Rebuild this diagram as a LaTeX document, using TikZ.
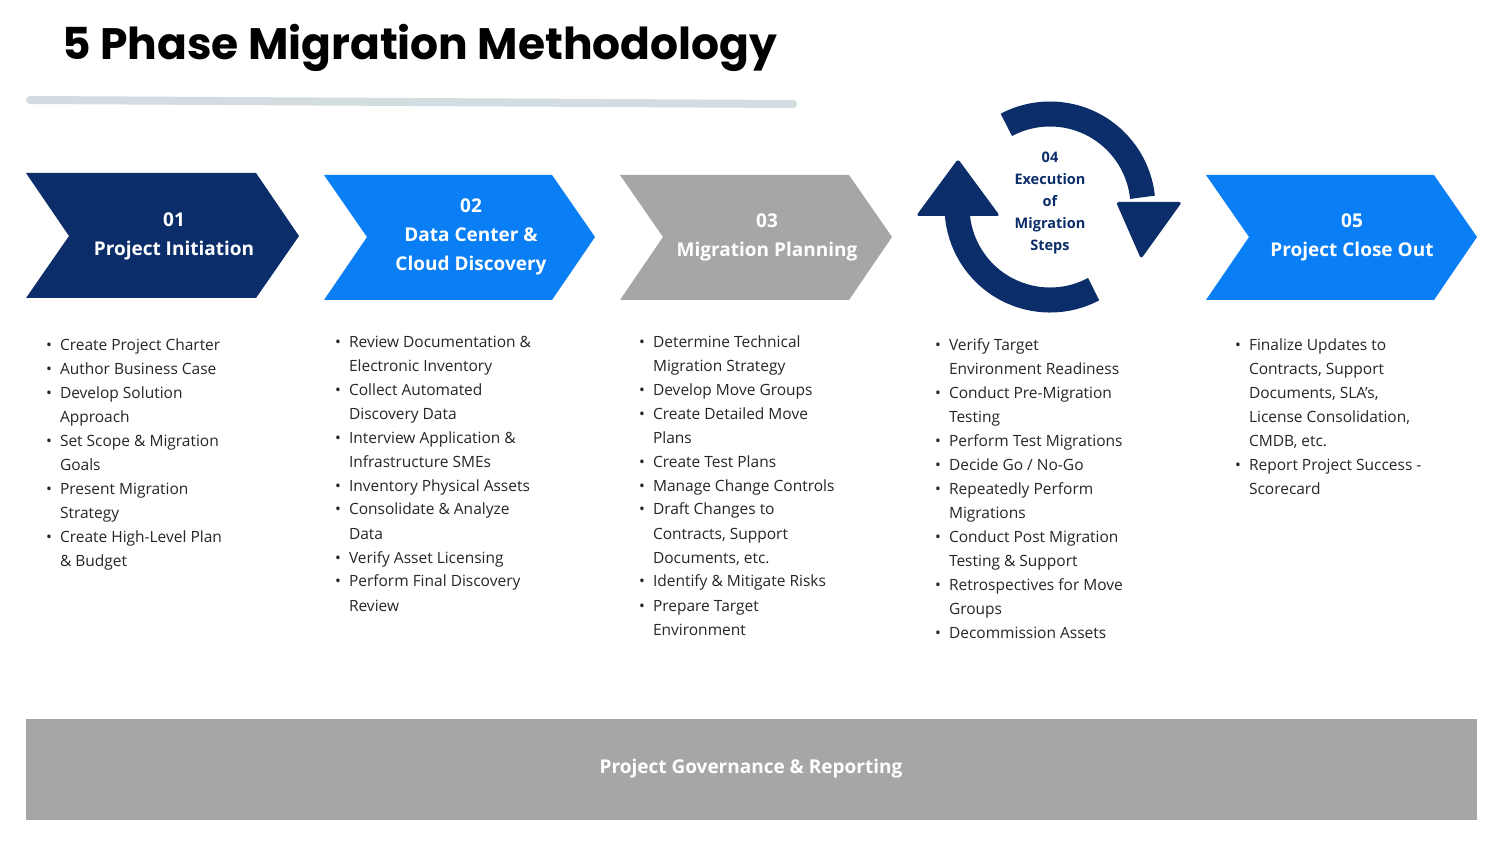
\documentclass[tikz,border=0pt]{standalone}
\usepackage{fontspec}
\setmainfont{Open Sans}
\newfontfamily\titlefont{Poppins}
\definecolor{navy}{HTML}{0B2E6B}
\definecolor{bblue}{HTML}{0A7FF5}
\definecolor{gry}{HTML}{A6A6A6}
\definecolor{lgry}{HTML}{D3DCE0}
\newcommand{\bl}{\textbullet}
\begin{document}
\begin{tikzpicture}[x=1pt,y=-1pt,
  lbl/.style={text=white,font=\fontsize{19}{29}\selectfont\bfseries,align=center,inner sep=0},
  lst/.style={anchor=base west,inner sep=0,font=\fontsize{15.5}{24}\selectfont,text=black!85}]
\useasboundingbox (0,0) rectangle (1507,842);
\fill[white] (0,0) rectangle (1507,842);
\node[anchor=base west,inner sep=0,font=\titlefont\fontsize{44}{50}\selectfont\bfseries] (title) at (62,60) {5 Phase Migration Methodology};
\draw[lgry,line width=8pt,line cap=round] (30,100) -- (793,104);
% chevrons
\fill[navy] (26,173) -- (256,173) -- (299,236) -- (256,298) -- (26,298) -- (69,236) -- cycle;
\node[lbl] (p1) at (174,236) {01\\Project Initiation};
\fill[bblue] (324,175) -- (552,175) -- (595,237) -- (552,300) -- (324,300) -- (367,237) -- cycle;
\node[lbl] (p2) at (471,237) {02\\Data Center \&\\Cloud Discovery};
\fill[gry] (620,175) -- (849,175) -- (892,237) -- (849,300) -- (620,300) -- (663,237) -- cycle;
\node[lbl] (p3) at (767,237) {03\\Migration Planning};
\fill[bblue] (1206,175) -- (1434,175) -- (1477,237) -- (1434,300) -- (1206,300) -- (1249,237) -- cycle;
\node[lbl] (p5) at (1352,237) {05\\Project Close Out};
% cycle
\coordinate (c) at (1050,207);
\draw[navy,line width=25pt] (c) ++(-118:93) arc[start angle=-118,end angle=-6,radius=93];
\fill[navy,rounded corners=3pt] (1116,202) -- (1182,202) -- (1141,259) -- cycle;
\draw[navy,line width=25pt] (c) ++(62:93) arc[start angle=62,end angle=180,radius=93];
\fill[navy,rounded corners=3pt] (916,216) -- (1000,216) -- (958,159) -- cycle;
\node[text=navy,font=\fontsize{14.5}{22}\selectfont\bfseries,align=center,inner sep=0] (p4) at (1050,203) {04\\Execution\\of\\Migration\\Steps};
% lists
\node[lst] (l1) at (46,350) {\begin{tabular}[t]{@{}l@{\hspace{8pt}}l@{}}
\bl & Create Project Charter\\ \bl & Author Business Case\\ \bl & Develop Solution\\ & Approach\\
\bl & Set Scope \& Migration\\ & Goals\\ \bl & Present Migration\\ & Strategy\\
\bl & Create High-Level Plan\\ & \& Budget\end{tabular}};
\node[lst] (l2) at (335,347) {\begin{tabular}[t]{@{}l@{\hspace{8pt}}l@{}}
\bl & Review Documentation \&\\ & Electronic Inventory\\ \bl & Collect Automated\\ & Discovery Data\\
\bl & Interview Application \&\\ & Infrastructure SMEs\\ \bl & Inventory Physical Assets\\
\bl & Consolidate \& Analyze\\ & Data\\ \bl & Verify Asset Licensing\\ \bl & Perform Final Discovery\\ & Review\end{tabular}};
\node[lst] (l3) at (639,347) {\begin{tabular}[t]{@{}l@{\hspace{8pt}}l@{}}
\bl & Determine Technical\\ & Migration Strategy\\ \bl & Develop Move Groups\\ \bl & Create Detailed Move\\ & Plans\\
\bl & Create Test Plans\\ \bl & Manage Change Controls\\ \bl & Draft Changes to\\ & Contracts, Support\\ & Documents, etc.\\
\bl & Identify \& Mitigate Risks\\ \bl & Prepare Target\\ & Environment\end{tabular}};
\node[lst] (l4) at (935,350) {\begin{tabular}[t]{@{}l@{\hspace{8pt}}l@{}}
\bl & Verify Target\\ & Environment Readiness\\ \bl & Conduct Pre-Migration\\ & Testing\\
\bl & Perform Test Migrations\\ \bl & Decide Go / No-Go\\ \bl & Repeatedly Perform\\ & Migrations\\
\bl & Conduct Post Migration\\ & Testing \& Support\\ \bl & Retrospectives for Move\\ & Groups\\ \bl & Decommission Assets\end{tabular}};
\node[lst] (l5) at (1235,350) {\begin{tabular}[t]{@{}l@{\hspace{8pt}}l@{}}
\bl & Finalize Updates to\\ & Contracts, Support\\ & Documents, SLA’s,\\ & License Consolidation,\\ & CMDB, etc.\\
\bl & Report Project Success -\\ & Scorecard\end{tabular}};
% bottom bar
\fill[gry] (26,719) rectangle (1477,820);
\node[text=white,font=\fontsize{19}{24}\selectfont\bfseries,inner sep=0] (gov) at (751,769) {Project Governance \& Reporting};
\end{tikzpicture}
\end{document}
